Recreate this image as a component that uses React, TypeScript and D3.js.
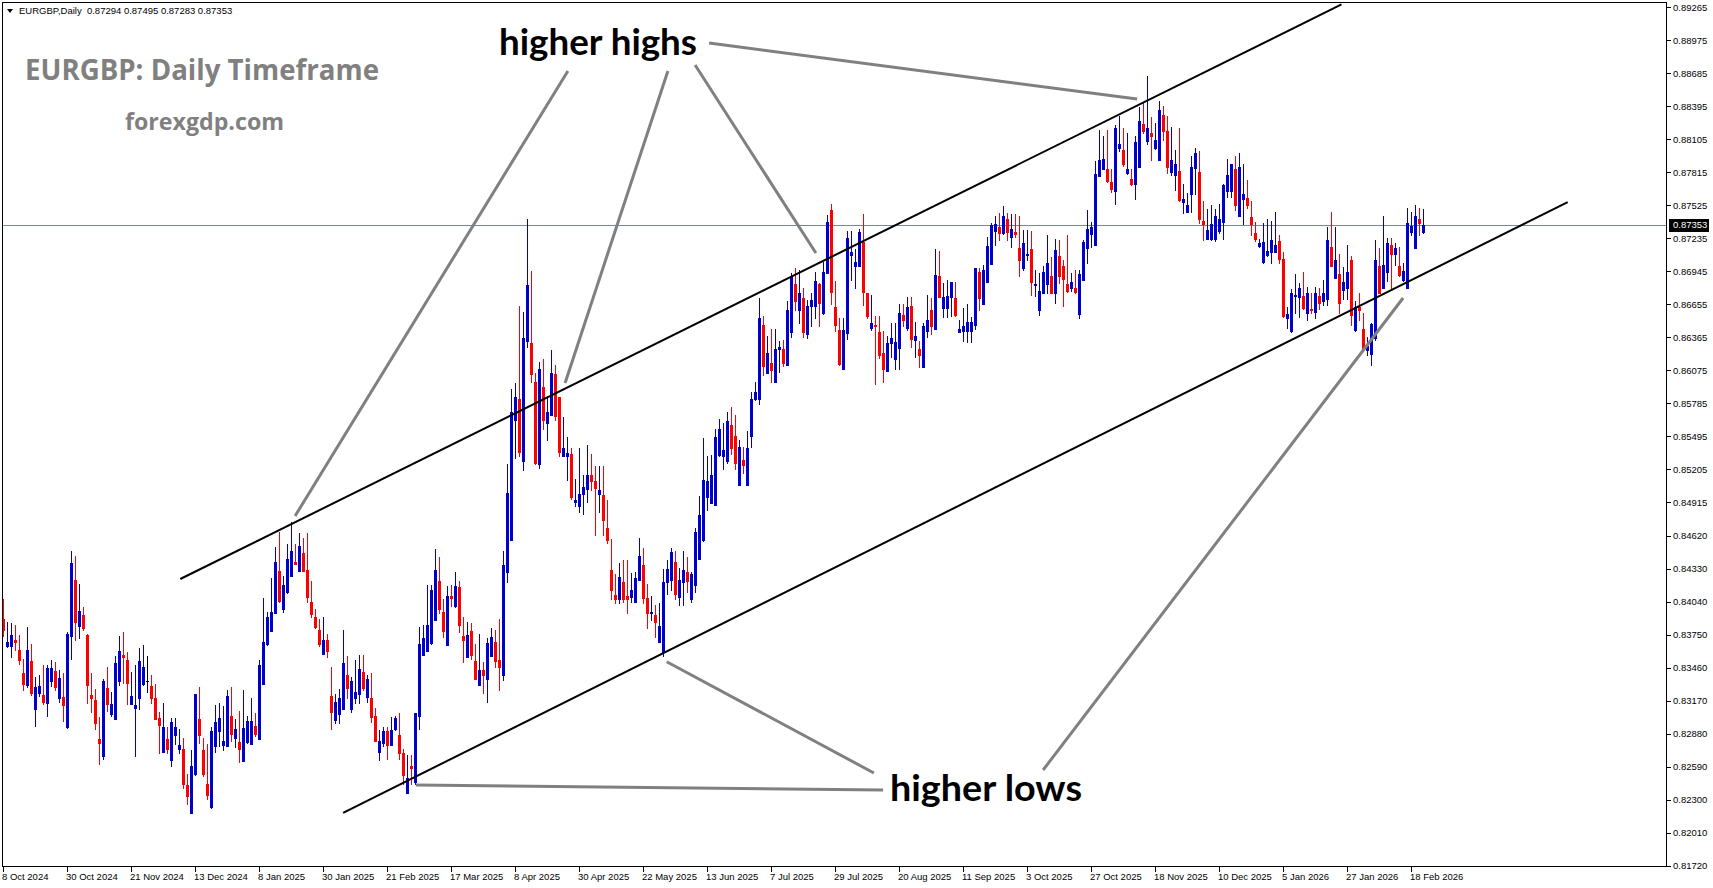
import React, { useEffect } from 'react';
import * as d3 from 'd3';

// ---- Data: EURGBP daily candles ----
const opens = [
.8389,.8365,.8365,.8370,.8362,.8341,.8331,.8352,.8310,.8324,.8322,.8315,.8334,.8343,.8319,.8320,.8294,.8374,.8423,.8383,
.8392,.8375,.8322,.8318,.8283,.8268,.8328,.8305,.8301,.8334,.8357,.8353,.8314,.8311,.8319,.8332,.8334,.8330,.8319,.8302,
.8272,.8283,.8265,.8287,.8275,.8275,.8243,.8218,.8253,.8301,.8274,.8244,.8224,.8277,.8290,.8278,.8277,.8304,.8284,.8281,
.8264,.8281,.8279,.8295,.8283,.8332,.8367,.8378,.8394,.8431,.8398,.8413,.8427,.8439,.8431,.8447,.8432,.8404,.8391,.8379,
.8358,.8370,.8321,.8300,.8305,.8310,.8340,.8310,.8319,.8323,.8342,.8320,.8319,.8304,.8272,.8280,.8290,.8278,.8292,.8287,
.8271,.8236,.8260,.8246,.8304,.8357,.8361,.8368,.8388,.8422,.8395,.8366,.8409,.8400,.8417,.8374,.8355,.8378,.8352,.8331,
.8344,.8336,.8356,.8369,.8353,.8340,.8430,.8458,.8564,.8582,.8528,.8633,.8631,.8597,.8525,.8593,.8561,.8568,.8604,.8584,
.8532,.8532,.8534,.8492,.8488,.8499,.8503,.8515,.8510,.8499,.8498,.8469,.8432,.8410,.8406,.8421,.8409,.8408,.8404,.8423,
.8436,.8407,.8394,.8392,.8369,.8360,.8421,.8423,.8439,.8408,.8421,.8430,.8406,.8419,.8442,.8458,.8496,.8491,.8489,.8533,
.8532,.8528,.8559,.8550,.8507,.8529,.8507,.8550,.8582,.8582,.8647,.8605,.8614,.8597,.8626,.8626,.8612,.8641,.8683,.8660,
.8671,.8639,.8664,.8664,.8683,.8658,.8693,.8748,.8663,.8643,.8609,.8640,.8709,.8699,.8699,.8720,.8675,.8645,.8647,.8641,
.8623,.8607,.8631,.8617,.8627,.8656,.8645,.8664,.8634,.8626,.8610,.8642,.8660,.8644,.8690,.8662,.8662,.8672,.8671,.8641,
.8642,.8642,.8642,.8647,.8694,.8666,.8685,.8701,.8730,.8733,.8728,.8740,.8725,.8729,.8715,.8697,.8709,.8714,.8682,.8660,
.8675,.8683,.8690,.8675,.8708,.8699,.8683,.8680,.8680,.8657,.8687,.8715,.8727,.8718,.8778,.8784,.8784,.8773,.8765,.8803,
.8801,.8781,.8776,.8771,.8786,.8824,.8809,.8816,.8803,.8792,.8832,.8818,.8782,.8779,.8783,.8755,.8747,.8762,.8785,.8782,
.8739,.8723,.8723,.8723,.8730,.8738,.8765,.8765,.8784,.8743,.8758,.8759,.8742,.8728,.8717,.8703,.8709,.8711,.8711,.8721,
.8705,.8653,.8642,.8673,.8672,.8673,.8658,.8661,.8659,.8673,.8668,.8670,.8716,.8689,.8692,.8678,.8680,.8704,.8643,.8663,
.8644,.8625,.8622,.8636,.8699,.8680,.8694,.8718,.8710,.8699,.8687,.8680,.8729,.8715,.8740,.87294
];
const highs = [
.8406,.8386,.8385,.8384,.8375,.8354,.8382,.8367,.8338,.8340,.8348,.8348,.8353,.8351,.8344,.8341,.8377,.8449,.8444,.8420,
.8399,.8376,.8341,.8327,.8303,.8336,.8347,.8325,.8356,.8374,.8377,.8360,.8342,.8348,.8363,.8366,.8356,.8340,.8332,.8307,
.8315,.8294,.8302,.8302,.8292,.8284,.8253,.8274,.8323,.8329,.8284,.8279,.8294,.8313,.8315,.8312,.8326,.8329,.8301,.8308,
.8326,.8304,.8319,.8306,.8353,.8407,.8395,.8425,.8452,.8465,.8427,.8455,.8474,.8455,.8464,.8460,.8464,.8422,.8398,.8389,
.8391,.8376,.8347,.8323,.8327,.8379,.8356,.8338,.8353,.8357,.8357,.8340,.8341,.8311,.8291,.8294,.8294,.8303,.8304,.8306,
.8275,.8269,.8269,.8306,.8382,.8384,.8419,.8419,.8450,.8443,.8406,.8418,.8419,.8430,.8422,.8391,.8386,.8385,.8367,.8376,
.8351,.8372,.8381,.8379,.8389,.8449,.8525,.8591,.8596,.8664,.8659,.8740,.8695,.8605,.8615,.8617,.8585,.8625,.8612,.8584,
.8566,.8549,.8539,.8512,.8539,.8515,.8542,.8534,.8523,.8523,.8523,.8493,.8459,.8428,.8438,.8441,.8441,.8429,.8430,.8460,
.8451,.8420,.8409,.8401,.8403,.8433,.8441,.8451,.8449,.8434,.8449,.8443,.8430,.8469,.8497,.8548,.8532,.8533,.8556,.8565,
.8561,.8571,.8575,.8568,.8546,.8540,.8554,.8588,.8597,.8671,.8655,.8638,.8644,.8644,.8633,.8634,.8668,.8693,.8697,.8696,
.8680,.8669,.8675,.8694,.8684,.8703,.8744,.8754,.8686,.8653,.8653,.8730,.8730,.8714,.8732,.8745,.8675,.8674,.8655,.8655,
.8642,.8638,.8649,.8649,.8666,.8666,.8672,.8672,.8650,.8633,.8649,.8674,.8671,.8714,.8712,.8684,.8687,.8685,.8685,.8652,
.8662,.8666,.8654,.8697,.8697,.8700,.8725,.8737,.8743,.8746,.8752,.8746,.8745,.8745,.8743,.8731,.8731,.8730,.8696,.8693,
.8699,.8726,.8707,.8723,.8722,.8704,.8726,.8693,.8696,.8696,.8722,.8748,.8738,.8791,.8819,.8813,.8819,.8784,.8823,.8831,
.8820,.8816,.8784,.8813,.8839,.8842,.8866,.8830,.8825,.8844,.8840,.8831,.8821,.8801,.8820,.8771,.8763,.8796,.8803,.8800,
.8756,.8749,.8753,.8749,.8754,.8771,.8793,.8789,.8796,.8798,.8789,.8775,.8756,.8738,.8723,.8737,.8740,.8739,.8747,.8726,
.8711,.8663,.8679,.8692,.8684,.8694,.8681,.8675,.8681,.8680,.8687,.8733,.8747,.8733,.8710,.8698,.8718,.8708,.8668,.8675,
.8658,.8637,.8649,.8722,.8715,.8743,.8724,.8724,.8719,.8716,.8702,.8750,.8747,.8753,.8750,.87495
];
const lows = [
.8374,.8364,.8355,.8362,.8349,.8326,.8329,.8322,.8295,.8321,.8314,.8304,.8330,.8326,.8316,.8299,.8293,.8354,.8370,.8372,
.8379,.8315,.8307,.8292,.8261,.8266,.8308,.8304,.8301,.8331,.8333,.8314,.8314,.8268,.8310,.8331,.8325,.8315,.8301,.8271,
.8272,.8271,.8260,.8279,.8271,.8240,.8226,.8218,.8252,.8280,.8251,.8231,.8223,.8272,.8277,.8274,.8277,.8282,.8276,.8263,
.8264,.8280,.8279,.8286,.8283,.8332,.8366,.8378,.8394,.8404,.8395,.8412,.8427,.8437,.8431,.8431,.8404,.8391,.8381,.8365,
.8358,.8355,.8292,.8297,.8297,.8310,.8319,.8307,.8315,.8315,.8326,.8316,.8298,.8282,.8265,.8277,.8266,.8278,.8291,.8266,
.8244,.8236,.8244,.8244,.8292,.8357,.8361,.8367,.8388,.8394,.8373,.8366,.8400,.8399,.8377,.8351,.8355,.8354,.8336,.8331,
.8324,.8316,.8356,.8347,.8326,.8335,.8421,.8458,.8530,.8532,.8520,.8628,.8597,.8525,.8522,.8556,.8546,.8568,.8564,.8532,
.8532,.8511,.8494,.8488,.8483,.8481,.8492,.8502,.8463,.8483,.8463,.8456,.8406,.8403,.8403,.8404,.8394,.8404,.8404,.8423,
.8403,.8381,.8388,.8373,.8369,.8356,.8411,.8414,.8406,.8401,.8401,.8413,.8404,.8413,.8442,.8457,.8485,.8491,.8489,.8532,
.8521,.8526,.8534,.8521,.8507,.8517,.8507,.8540,.8581,.8578,.8603,.8605,.8597,.8597,.8606,.8611,.8612,.8637,.8660,.8649,
.8637,.8636,.8646,.8653,.8646,.8657,.8693,.8666,.8642,.8612,.8609,.8635,.8687,.8680,.8699,.8665,.8653,.8643,.8595,.8618,
.8597,.8607,.8619,.8609,.8609,.8646,.8643,.8628,.8619,.8610,.8610,.8637,.8639,.8644,.8672,.8654,.8654,.8655,.8655,.8641,
.8633,.8632,.8632,.8644,.8660,.8666,.8685,.8701,.8718,.8722,.8727,.8722,.8716,.8725,.8690,.8696,.8704,.8674,.8673,.8656,
.8675,.8675,.8675,.8667,.8684,.8664,.8676,.8677,.8675,.8653,.8687,.8702,.8716,.8718,.8778,.8784,.8773,.8764,.8754,.8800,
.8787,.8780,.8770,.8758,.8786,.8816,.8806,.8792,.8802,.8792,.8810,.8781,.8779,.8766,.8756,.8746,.8747,.8747,.8762,.8737,
.8722,.8723,.8722,.8721,.8728,.8723,.8760,.8760,.8748,.8743,.8736,.8750,.8726,.8721,.8716,.8702,.8708,.8702,.8711,.8702,
.8654,.8645,.8641,.8658,.8654,.8661,.8652,.8658,.8653,.8661,.8665,.8665,.8699,.8689,.8658,.8670,.8670,.8647,.8642,.8652,
.8625,.8621,.8612,.8634,.8675,.8680,.8686,.8679,.8700,.8690,.8686,.8680,.8726,.8715,.8726,.87283
];
const closes = [
.8379,.8369,.8375,.8369,.8353,.8332,.8362,.8324,.8329,.8330,.8316,.8346,.8346,.8329,.8337,.8313,.8376,.8438,.8386,.8396,
.8381,.8331,.8319,.8297,.8280,.8334,.8314,.8314,.8350,.8361,.8355,.8333,.8321,.8313,.8352,.8347,.8334,.8319,.8301,.8296,
.8294,.8275,.8298,.8294,.8278,.8244,.8233,.8260,.8323,.8287,.8253,.8234,.8290,.8298,.8302,.8282,.8321,.8288,.8292,.8275,
.8293,.8299,.8299,.8288,.8348,.8369,.8391,.8395,.8439,.8405,.8419,.8442,.8449,.8437,.8453,.8431,.8408,.8393,.8382,.8367,
.8370,.8361,.8307,.8316,.8319,.8350,.8328,.8334,.8325,.8345,.8328,.8336,.8303,.8282,.8282,.8290,.8278,.8291,.8302,.8271,
.8252,.8249,.8258,.8306,.8367,.8372,.8384,.8414,.8432,.8398,.8378,.8409,.8407,.8418,.8384,.8370,.8375,.8357,.8336,.8344,
.8340,.8368,.8373,.8352,.8347,.8436,.8500,.8571,.8584,.8536,.8636,.8682,.8604,.8526,.8609,.8564,.8571,.8605,.8567,.8536,
.8539,.8535,.8496,.8493,.8499,.8505,.8515,.8510,.8504,.8502,.8476,.8458,.8414,.8406,.8426,.8406,.8406,.8414,.8425,.8444,
.8407,.8394,.8395,.8386,.8383,.8421,.8433,.8448,.8411,.8423,.8432,.8422,.8428,.8465,.8480,.8511,.8510,.8515,.8549,.8556,
.8537,.8563,.8539,.8526,.8540,.8524,.8539,.8582,.8588,.8653,.8611,.8623,.8608,.8626,.8628,.8614,.8660,.8690,.8668,.8675,
.8641,.8664,.8669,.8686,.8667,.8694,.8738,.8676,.8647,.8613,.8643,.8724,.8711,.8703,.8729,.8676,.8655,.8649,.8646,.8621,
.8609,.8631,.8636,.8632,.8658,.8652,.8663,.8635,.8638,.8621,.8646,.8652,.8646,.8691,.8672,.8672,.8673,.8685,.8656,.8644,
.8646,.8650,.8650,.8697,.8671,.8696,.8717,.8735,.8736,.8728,.8743,.8729,.8732,.8727,.8704,.8719,.8710,.8685,.8683,.8677,
.8694,.8702,.8675,.8713,.8690,.8688,.8677,.8685,.8676,.8692,.8720,.8732,.8733,.8780,.8792,.8793,.8774,.8767,.8820,.8806,
.8789,.8784,.8771,.8808,.8827,.8818,.8820,.8813,.8810,.8836,.8818,.8786,.8792,.8789,.8757,.8758,.8753,.8786,.8798,.8740,
.8736,.8731,.8736,.8743,.8740,.8770,.8779,.8789,.8753,.8786,.8762,.8753,.8736,.8723,.8719,.8720,.8712,.8722,.8718,.8705,
.8655,.8657,.8675,.8674,.8680,.8662,.8675,.8660,.8675,.8667,.8675,.8722,.8699,.8704,.8667,.8685,.8694,.8656,.8663,.8660,
.8626,.8629,.8648,.8704,.8675,.8700,.8719,.8710,.8715,.8691,.8695,.8737,.8734,.8743,.8737,.87353
];

const dateLabels = [
  '8 Oct 2024', '30 Oct 2024', '21 Nov 2024', '13 Dec 2024', '8 Jan 2025', '30 Jan 2025',
  '21 Feb 2025', '17 Mar 2025', '8 Apr 2025', '30 Apr 2025', '22 May 2025', '13 Jun 2025',
  '7 Jul 2025', '29 Jul 2025', '20 Aug 2025', '11 Sep 2025', '3 Oct 2025', '27 Oct 2025',
  '18 Nov 2025', '10 Dec 2025', '5 Jan 2026', '27 Jan 2026', '18 Feb 2026'
];
const barsPerDateLabel = 16;

const priceTickLabels = [
  '0.89265', '0.88975', '0.88685', '0.88395', '0.88105', '0.87815', '0.87525', '0.87235',
  '0.86945', '0.86655', '0.86365', '0.86075', '0.85785', '0.85495', '0.85205', '0.84915',
  '0.84620', '0.84330', '0.84040', '0.83750', '0.83460', '0.83170', '0.82880', '0.82590',
  '0.82300', '0.82010', '0.81720'
];
const priceMin = 0.8172;
const priceMax = 0.89265;
const lastPrice = 0.87353;
const headerText = 'EURGBP,Daily  0.87294 0.87495 0.87283 0.87353';

// trend channel lines anchored at (bar index, price)
const channelLines = [
  { i1: 44.2, p1: 0.84240, i2: 334.5, p2: 0.89290 },
  { i1: 84.9, p1: 0.82185, i2: 391.05, p2: 0.87553 },
];
// grey pointer lines anchored at (bar index, price)
const pointerLines = [
  { i1: 141.1, p1: 0.88705, i2: 72.9, p2: 0.84794 },
  { i1: 166.1, p1: 0.88705, i2: 140.4, p2: 0.85963 },
  { i1: 172.9, p1: 0.88758, i2: 203.1, p2: 0.87105 },
  { i1: 176.4, p1: 0.88951, i2: 283.4, p2: 0.88459 },
  { i1: 219.9, p1: 0.82385, i2: 103.1, p2: 0.82429 },
  { i1: 217.6, p1: 0.82535, i2: 165.8, p2: 0.83513 },
  { i1: 259.9, p1: 0.82561, i2: 349.9, p2: 0.86710 },
];

const W = 1713;
const H = 888;
const L = 2.5, R = 1666.5, T = 2.5, B = 866.5;

export default function App() {
  useEffect(() => {
    document.body.style.margin = '0';
    document.body.style.overflow = 'hidden';
  }, []);

  const n = closes.length;
  const x = d3.scaleLinear().domain([0, n - 1]).range([3.5, 3.5 + 4 * (n - 1)]);
  const y = d3.scaleLinear().domain([priceMin, priceMax]).range([865.7, 7.3]);
  const BLUE = '#0000CD';
  const RED = '#FF0000';

  const candles = closes.map((c, i) => {
    const o = opens[i];
    const hi = Math.max(highs[i], o, c);
    const lo = Math.min(lows[i], o, c);
    const cx = x(i);
    const color = c > o ? BLUE : c < o ? RED : '#000000';
    const yTop = Math.round(y(Math.max(o, c)));
    const yBot = Math.round(y(Math.min(o, c)));
    const yH = Math.round(y(hi));
    const yL = Math.round(y(lo));
    return (
      <g key={i}>
        <rect x={cx - 0.5} y={yH} width={1} height={Math.max(1, yL - yH + 1)} fill={color} />
        <rect x={cx - 1.5} y={yTop} width={3} height={Math.max(1, yBot - yTop + 1)} fill={color} />
      </g>
    );
  });

  const fontAxis = '"Liberation Sans", Arial, sans-serif';
  const lastY = y(lastPrice);

  return (
    <svg width={W} height={H} style={{ position: 'absolute', left: 0, top: 0, display: 'block', background: '#fff' }}>
      <defs>
        <clipPath id="plot">
          <rect x={L} y={T} width={R - L} height={B - T} />
        </clipPath>
      </defs>
      <rect x={0} y={0} width={W} height={H} fill="#ffffff" />

      {/* current price line */}
      <line x1={L} x2={R} y1={Math.round(lastY) + 0.5} y2={Math.round(lastY) + 0.5} stroke="#778899" strokeWidth={1} />

      <g clipPath="url(#plot)" shapeRendering="crispEdges">{candles}</g>

      <g clipPath="url(#plot)">
        {channelLines.map((l, k) => (
          <line key={k} x1={x(l.i1)} y1={y(l.p1)} x2={x(l.i2)} y2={y(l.p2)} stroke="#000" strokeWidth={2} />
        ))}
        {pointerLines.map((l, k) => (
          <line key={k} x1={x(l.i1)} y1={y(l.p1)} x2={x(l.i2)} y2={y(l.p2)} stroke="#808080" strokeWidth={3} />
        ))}
      </g>

      {/* frame */}
      <rect x={L} y={T} width={R - L} height={B - T} fill="none" stroke="#000" strokeWidth={1} shapeRendering="crispEdges" />

      {/* price axis */}
      <g fontFamily={fontAxis} fontSize={9.5} fill="#000">
        {priceTickLabels.map((t, k) => {
          const yy = y(+t);
          return (
            <g key={k}>
              <line x1={R} x2={R + 4} y1={Math.round(yy) + 0.5} y2={Math.round(yy) + 0.5} stroke="#000" shapeRendering="crispEdges" />
              <text x={1673} y={yy + 3.5}>{t}</text>
            </g>
          );
        })}
      </g>
      <rect x={1669} y={Math.round(lastY) - 6} width={40} height={13} fill="#000" />
      <text x={1673} y={lastY + 3.5} fontFamily={fontAxis} fontSize={9.5} fill="#fff">{lastPrice.toFixed(5)}</text>

      {/* time axis */}
      <g fontFamily={fontAxis} fontSize={9.5} fill="#000">
        {dateLabels.map((d, k) => {
          const xx = x(k * barsPerDateLabel);
          return (
            <g key={k}>
              <line x1={Math.round(xx) - 0.5} x2={Math.round(xx) - 0.5} y1={B} y2={B + 5} stroke="#000" shapeRendering="crispEdges" />
              <text x={Math.max(2, xx - 1.5)} y={880}>{d}</text>
            </g>
          );
        })}
      </g>

      {/* header */}
      <polygon points="7,9 13,9 10,13" fill="#000" />
      <text x={19} y={14} fontFamily={fontAxis} fontSize={9.5} fill="#000" style={{ whiteSpace: 'pre' }}>{headerText}</text>

      {/* annotations */}
      <text x={25} y={80} fontFamily='"Open Sans", sans-serif' fontWeight={700} fontSize={28} fill="#808080"
        textLength={354} lengthAdjust="spacingAndGlyphs">EURGBP: Daily Timeframe</text>
      <text x={125} y={130} fontFamily='"Open Sans", sans-serif' fontWeight={700} fontSize={24} fill="#808080"
        textLength={159} lengthAdjust="spacingAndGlyphs">forexgdp.com</text>
      <text x={499} y={55} fontFamily='Lato, sans-serif' fontWeight={700} fontSize={37} fill="#000"
        textLength={198} lengthAdjust="spacingAndGlyphs">higher highs</text>
      <text x={890} y={801} fontFamily='Lato, sans-serif' fontWeight={700} fontSize={37} fill="#000"
        textLength={192} lengthAdjust="spacingAndGlyphs">higher lows</text>
    </svg>
  );
}
